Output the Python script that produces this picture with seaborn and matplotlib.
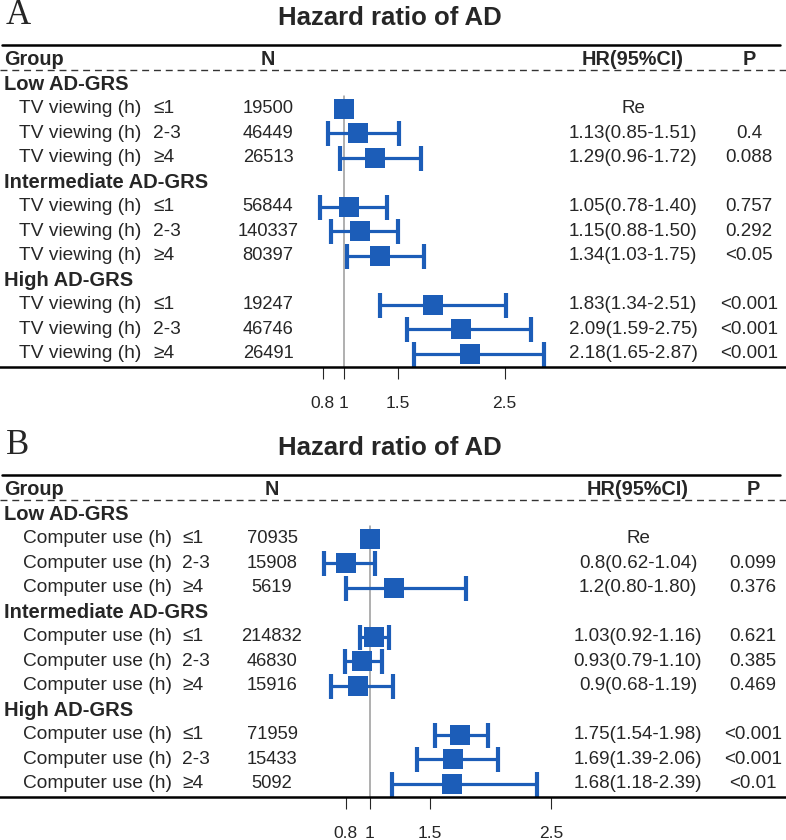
"""
Forest plots: hazard ratio of AD by TV viewing / computer use within AD-GRS strata
"""
import numpy as np
import pandas as pd
import matplotlib
matplotlib.use("Agg")
import matplotlib.pyplot as plt
import seaborn as sns

sns.set_style("white")
plt.rcParams["font.family"] = ["Liberation Sans", "DejaVu Sans"]

# %% DATA
groups = ["Low AD-GRS", "Intermediate AD-GRS", "High AD-GRS"]
levels = ["≤1", "2-3", "≥4"]
ticks = [0.8, 1, 1.5, 2.5]
tick_labels = ["0.8", "1", "1.5", "2.5"]

tv_n = [19500, 46449, 26513, 56844, 140337, 80397, 19247, 46746, 26491]
tv_hr = [1.0, 1.13, 1.29, 1.05, 1.15, 1.34, 1.83, 2.09, 2.18]
tv_lo = [np.nan, 0.85, 0.96, 0.78, 0.88, 1.03, 1.34, 1.59, 1.65]
tv_hi = [np.nan, 1.51, 1.72, 1.40, 1.50, 1.75, 2.51, 2.75, 2.87]
tv_p = ["", "0.4", "0.088", "0.757", "0.292", "<0.05", "<0.001", "<0.001", "<0.001"]

pc_n = [70935, 15908, 5619, 214832, 46830, 15916, 71959, 15433, 5092]
pc_hr = [1.0, 0.8, 1.2, 1.03, 0.93, 0.9, 1.75, 1.69, 1.68]
pc_lo = [np.nan, 0.62, 0.80, 0.92, 0.79, 0.68, 1.54, 1.39, 1.18]
pc_hi = [np.nan, 1.04, 1.80, 1.16, 1.10, 1.19, 1.98, 2.06, 2.39]
pc_p = ["", "0.099", "0.376", "0.621", "0.385", "0.469", "<0.001", "<0.001", "<0.01"]

BLUE = "#1c5db8"
W, H = 786, 840


def forest(ax, letter, exposure, n, hr, lo, hi, p, ref_px, unit_px, lab_x, lvl_x, n_x, hr_x, p_x):
    # x scale: value 1 sits at ref_px, unit_px pixels per unit
    ax.set_xlim(1 - ref_px / unit_px, 1 + (W - ref_px) / unit_px)
    ax.set_ylim(367, 0)
    tr = ax.get_yaxis_transform()
    fx = lambda px: px / W

    df = pd.DataFrame({"n": n, "hr": hr, "lo": lo, "hi": hi, "p": p})
    df["row"] = [i + 1 + i // 3 for i in range(len(df))]
    df["y"] = 84 + df["row"] * 24.5
    df["label"] = [f"{h:g}({l:.2f}-{u:.2f})" if not np.isnan(l) else "Re"
                   for h, l, u in zip(df["hr"], df["lo"], df["hi"])]

    # header
    ax.text(fx(6), 16, letter, transform=tr, family="Liberation Serif", fontsize=25, va="center")
    ax.text(fx(390), 18, "Hazard ratio of AD", transform=tr, fontsize=18.5,
            fontweight="bold", ha="center", va="center")
    ax.axhline(45, xmin=0.003, xmax=0.992, color="black", lw=1.8)
    ax.text(fx(4), 59.5, "Group", transform=tr, fontsize=14.3, fontweight="bold", va="center")
    ax.text(fx(n_x), 59.5, "N", transform=tr, fontsize=14.3, fontweight="bold", ha="center", va="center")
    ax.text(fx(hr_x), 59.5, "HR(95%CI)", transform=tr, fontsize=14.3, fontweight="bold",
            ha="center", va="center")
    ax.text(fx(p_x), 59.5, "P", transform=tr, fontsize=14.3, fontweight="bold", ha="center", va="center")
    ax.axhline(70, color="#333333", lw=1.0, ls=(0, (5, 3.5)))

    for g, name in enumerate(groups):
        ax.text(fx(4), 84 + g * 4 * 24.5, name, transform=tr, fontsize=14.5,
                fontweight="bold", va="center")

    for i, r in df.iterrows():
        ax.text(fx(lab_x), r["y"], exposure, transform=tr, fontsize=13.8, va="center")
        ax.text(fx(lvl_x), r["y"], levels[i % 3], transform=tr, fontsize=13.8, va="center")
        ax.text(fx(n_x), r["y"], str(r["n"]), transform=tr, fontsize=13.2, ha="center", va="center")
        ax.text(fx(hr_x), r["y"], r["label"], transform=tr, fontsize=13.5, ha="center", va="center")
        ax.text(fx(p_x), r["y"], r["p"], transform=tr, fontsize=13.5, ha="center", va="center")

    # reference line
    ax.plot([1, 1], [df["y"].iloc[0] - 13, 367], color="#9a9a9a", lw=1.1, zorder=1)

    ci = df.dropna(subset=["lo"])
    ax.errorbar(ci["hr"], ci["y"], xerr=[ci["hr"] - ci["lo"], ci["hi"] - ci["hr"]],
                fmt="none", ecolor=BLUE, elinewidth=2.3, capsize=9, capthick=3, zorder=2)
    sns.scatterplot(data=df, x="hr", y="y", marker="s", s=220, color=BLUE,
                    linewidth=0, ax=ax, zorder=3, legend=False)

    ax.set_xticks(ticks)
    ax.set_xticklabels(tick_labels)
    ax.tick_params(axis="x", direction="out", length=8.6, width=0.8, pad=12,
                   labelsize=12.5, bottom=True)
    ax.set_yticks([])
    ax.set_xlabel("")
    ax.set_ylabel("")
    for s in ["top", "left", "right"]:
        ax.spines[s].set_visible(False)
    ax.spines["bottom"].set_linewidth(1.8)
    ax.spines["bottom"].set_color("black")


fig = plt.figure(figsize=(W / 100, H / 100), dpi=100)
ax_a = fig.add_axes([0, 1 - 367 / H, 1, 367 / H])
ax_b = fig.add_axes([0, 1 - 797 / H, 1, 367 / H])

forest(ax_a, "A", "TV viewing (h)", tv_n, tv_hr, tv_lo, tv_hi, tv_p,
       ref_px=344, unit_px=107, lab_x=19, lvl_x=153, n_x=268, hr_x=633, p_x=749)
forest(ax_b, "B", "Computer use (h)", pc_n, pc_hr, pc_lo, pc_hi, pc_p,
       ref_px=370, unit_px=120.5, lab_x=23, lvl_x=182, n_x=272, hr_x=638, p_x=753)

plt.savefig("out.png", dpi=100)
